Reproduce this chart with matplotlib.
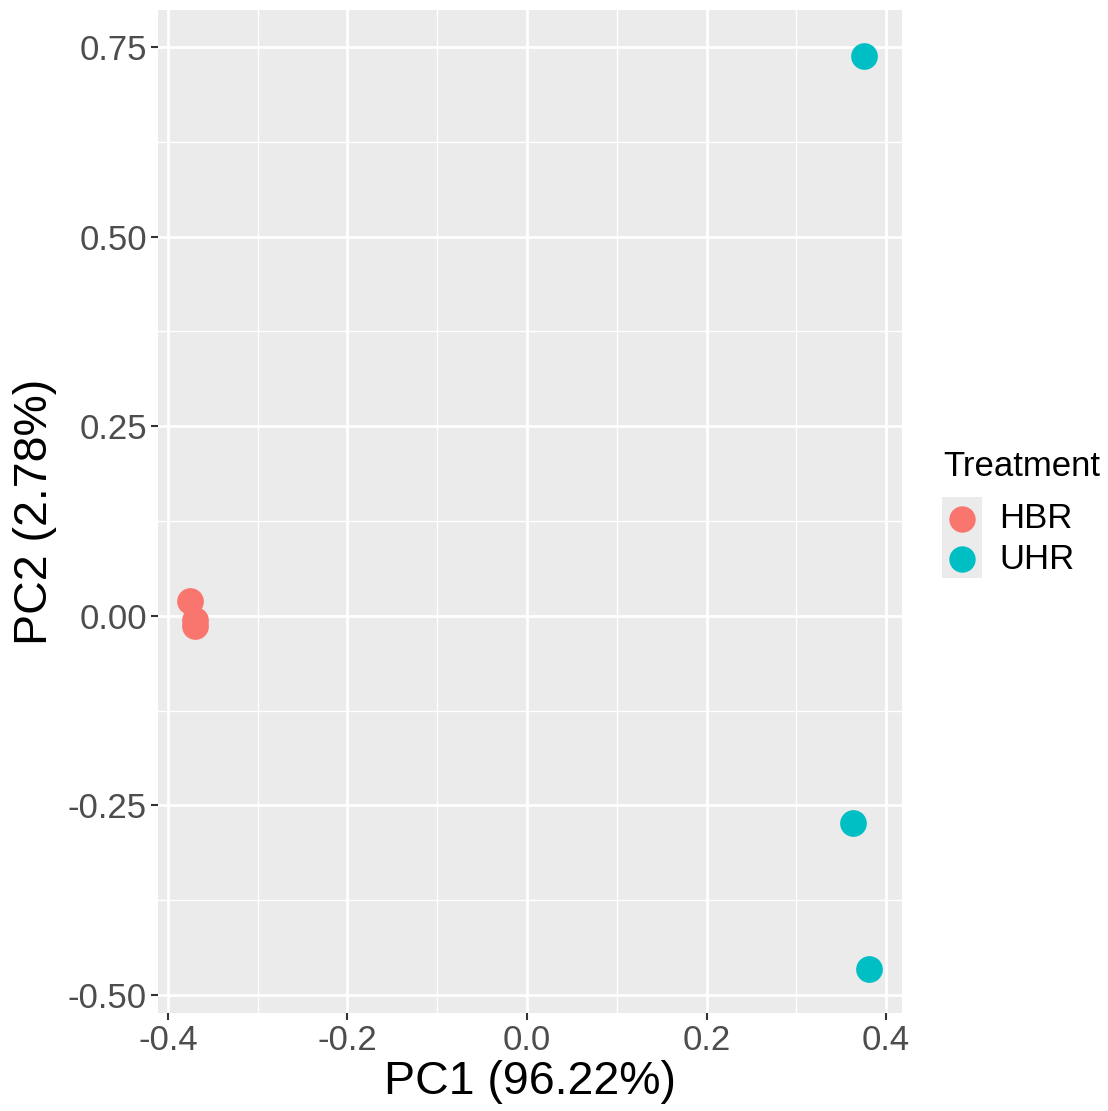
import matplotlib
matplotlib.use("Agg")
from matplotlib import pyplot as plt
from matplotlib.patches import Rectangle

plt.rcParams["font.family"] = ["Liberation Sans", "DejaVu Sans"]

# PCA scores
hbr_pc1 = [-0.3755, -0.370, -0.3695]
hbr_pc2 = [0.020, -0.006, -0.014]
uhr_pc1 = [0.3755, 0.3632, 0.381]
uhr_pc2 = [0.738, -0.273, -0.4655]

groups = ["HBR", "UHR"]
colors = ["#F8766D", "#00BFC4"]

x_ticks = [-0.4, -0.2, 0.0, 0.2, 0.4]
x_labels = ["-0.4", "-0.2", "0.0", "0.2", "0.4"]
y_ticks = [-0.50, -0.25, 0.00, 0.25, 0.50, 0.75]
y_labels = ["-0.50", "-0.25", "0.00", "0.25", "0.50", "0.75"]

W, H = 1108, 1111
fig = plt.figure(figsize=(W / 100, H / 100), dpi=100)
ax = fig.add_axes([158 / W, 1 - 1013 / H, (902 - 158) / W, (1013 - 10) / H])
ax.set_facecolor("#EBEBEB")
for s in ax.spines.values():
    s.set_visible(False)

ax.set_xlim(-0.4111, 0.4178)
ax.set_ylim(-0.5237, 0.7988)
ax.set_xticks(x_ticks)
ax.set_xticklabels(x_labels)
ax.set_yticks(y_ticks)
ax.set_yticklabels(y_labels)
ax.set_xticks([-0.3, -0.1, 0.1, 0.3], minor=True)
ax.set_yticks([-0.375, -0.125, 0.125, 0.375, 0.625], minor=True)
ax.grid(which="major", color="white", linewidth=2.0)
ax.grid(which="minor", color="white", linewidth=1.0)
ax.set_axisbelow(True)
ax.tick_params(which="major", length=5, width=1.5, color="#333333",
               labelsize=25, labelcolor="#4D4D4D", pad=3)
ax.tick_params(which="minor", length=0)

ax.scatter(hbr_pc1, hbr_pc2, s=370, color=colors[0], linewidths=0, zorder=3)
ax.scatter(uhr_pc1, uhr_pc2, s=370, color=colors[1], linewidths=0, zorder=3)

ax.set_xlabel("PC1 (96.22%)", fontsize=33.5, color="black", labelpad=2)
ax.set_ylabel("PC2 (2.78%)", fontsize=33.5, color="black", labelpad=8)

# legend
fig.text(943 / W, 1 - 466 / H, "Treatment", fontsize=25, va="center", ha="left")
fig.patches.append(Rectangle((942 / W, 1 - 578 / H), 40 / W, 81 / H,
                             transform=fig.transFigure, facecolor="#EBEBEB",
                             edgecolor="none"))
for i, (g, c) in enumerate(zip(groups, colors)):
    yy = 1 - (519 + 40 * i) / H
    fig.lines.append(plt.Line2D([962 / W], [yy], transform=fig.transFigure,
                                marker="o", markersize=19, color=c,
                                markeredgewidth=0, linestyle="none"))
    fig.text(999 / W, yy, g, fontsize=25, va="center", ha="left")

fig.savefig("out.png", dpi=100)
